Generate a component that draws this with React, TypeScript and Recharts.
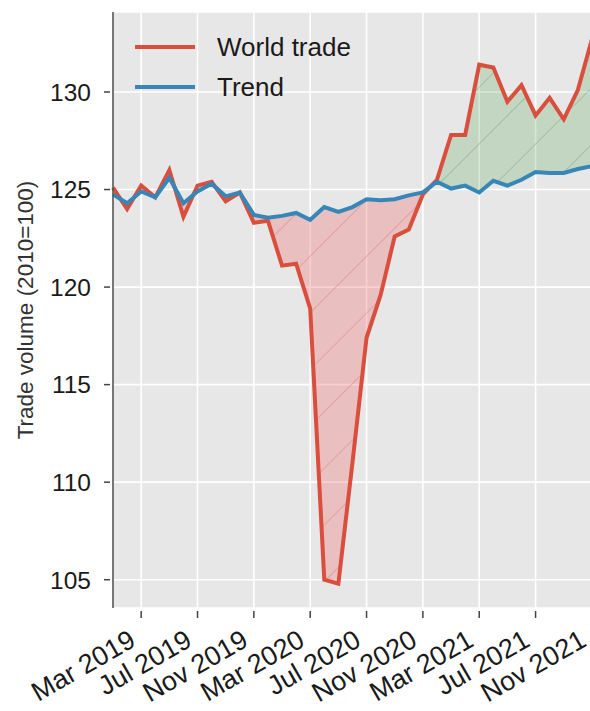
import React from "react";
import { ComposedChart, Line, Area, XAxis, YAxis, CartesianGrid, Legend } from "recharts";

// ---------------------------------------------------------------------------
// Data (monthly)
// ---------------------------------------------------------------------------

const MONTHS = [
  "Jan 2019", "Feb 2019", "Mar 2019", "Apr 2019", "May 2019", "Jun 2019",
  "Jul 2019", "Aug 2019", "Sep 2019", "Oct 2019", "Nov 2019", "Dec 2019",
  "Jan 2020", "Feb 2020", "Mar 2020", "Apr 2020", "May 2020", "Jun 2020",
  "Jul 2020", "Aug 2020", "Sep 2020", "Oct 2020", "Nov 2020", "Dec 2020",
  "Jan 2021", "Feb 2021", "Mar 2021", "Apr 2021", "May 2021", "Jun 2021",
  "Jul 2021", "Aug 2021", "Sep 2021", "Oct 2021", "Nov 2021",
];

const WORLD_TRADE = [
  125.1, 124.0, 125.2, 124.6, 126.0, 123.6, 125.2, 125.4, 124.4, 124.85, 123.3, 123.4,
  121.1, 121.2, 118.9, 105.0, 104.8, 111.0, 117.4, 119.6, 122.6, 122.95, 124.75, 125.5,
  127.8, 127.8, 131.4, 131.25, 129.5, 130.35, 128.8, 129.7, 128.6, 130.1, 132.7,
];

const TREND = [
  124.75, 124.3, 124.9, 124.6, 125.6, 124.3, 124.9, 125.3, 124.65, 124.85, 123.7, 123.55,
  123.65, 123.8, 123.45, 124.1, 123.85, 124.1, 124.5, 124.45, 124.5, 124.7, 124.85, 125.4,
  125.05, 125.2, 124.85, 125.45, 125.2, 125.5, 125.9, 125.85, 125.85, 126.05, 126.2,
];

const X_TICK_MONTHS = [
  "Mar 2019", "Jul 2019", "Nov 2019", "Mar 2020", "Jul 2020",
  "Nov 2020", "Mar 2021", "Jul 2021", "Nov 2021",
];

const Y_TICKS = [105, 110, 115, 120, 125, 130];

const RED = "#d94e3c";
const BLUE = "#3786b8";
const FONT = '"Liberation Sans", Arial, sans-serif';

const SERIES = [
  { name: "World trade", color: RED },
  { name: "Trend", color: BLUE },
];

const chartData = MONTHS.map((month, i) => {
  const w = WORLD_TRADE[i];
  const t = TREND[i];
  return {
    i,
    month,
    world: w,
    trend: t,
    below: [Math.min(w, t), t],
    above: [t, Math.max(w, t)],
  };
});

const xTicks = X_TICK_MONTHS.map((m) => MONTHS.indexOf(m));

// ---------------------------------------------------------------------------
// Ticks & legend
// ---------------------------------------------------------------------------

function XTick(props: any) {
  const { x, y, payload } = props;
  const ax = x - 4;
  const ay = y + 37;
  return (
    <g>
      <line x1={x} x2={x} y1={y + 3} y2={y + 10} stroke="#444" strokeWidth={1.5} />
      <text
        x={ax}
        y={ay}
        textAnchor="end"
        transform={`rotate(-30, ${ax}, ${ay})`}
        fontSize={27}
        fontFamily={FONT}
        fill="#1a1a1a"
      >
        {MONTHS[payload.value]}
      </text>
    </g>
  );
}

function YTick(props: any) {
  const { x, y, payload } = props;
  return (
    <g>
      <line x1={x - 9} x2={x - 3} y1={y} y2={y} stroke="#444" strokeWidth={1.5} />
      <text
        x={x - 22}
        y={y}
        dy="0.36em"
        textAnchor="end"
        fontSize={24.5}
        fontFamily={FONT}
        fill="#1a1a1a"
      >
        {payload.value}
      </text>
    </g>
  );
}

function YLabel(props: any) {
  const { viewBox } = props;
  const cx = 33;
  const cy = viewBox.y + viewBox.height / 2;
  return (
    <text
      x={cx}
      y={cy}
      textAnchor="middle"
      transform={`rotate(-90, ${cx}, ${cy})`}
      fontSize={22.5}
      fontFamily={FONT}
      fill="#333"
    >
      Trade volume (2010=100)
    </text>
  );
}

function LegendBox() {
  return (
    <div style={{ fontFamily: FONT }}>
      {SERIES.map((s) => (
        <div key={s.name} style={{ display: "flex", alignItems: "center", height: 40 }}>
          <div style={{ width: 60, height: 4, background: s.color, marginRight: 22 }} />
          <span style={{ fontSize: 26, color: "#1a1a1a", lineHeight: "40px" }}>{s.name}</span>
        </div>
      ))}
    </div>
  );
}

// ---------------------------------------------------------------------------
// Component
// ---------------------------------------------------------------------------

export default function App() {
  return (
    <div
      style={{
        position: "absolute",
        left: 0,
        top: 0,
        width: 590,
        height: 711,
        overflow: "hidden",
        background: "#fff",
      }}
    >
      <svg width={0} height={0} style={{ position: "absolute" }}>
        <defs>
          <pattern id="hatchRed" patternUnits="userSpaceOnUse" width={40} height={40} patternTransform="rotate(45)">
            <rect width={40} height={40} fill="rgba(240,110,110,0.33)" />
            <line x1={0} y1={0} x2={0} y2={40} stroke="rgba(215,90,90,0.3)" strokeWidth={2} />
          </pattern>
          <pattern id="hatchGreen" patternUnits="userSpaceOnUse" width={40} height={40} patternTransform="rotate(45)">
            <rect width={40} height={40} fill="rgba(95,170,95,0.27)" />
            <line x1={0} y1={0} x2={0} y2={40} stroke="rgba(70,120,70,0.25)" strokeWidth={2} />
          </pattern>
        </defs>
      </svg>
      <ComposedChart
        width={606}
        height={711}
        data={chartData}
        margin={{ top: 12, right: 0, bottom: 0, left: 0 }}
      >
        <CartesianGrid stroke="#ffffff" strokeWidth={1.6} fill="#e7e7e7" />
        <XAxis
          dataKey="i"
          type="number"
          domain={[0, 35]}
          ticks={xTicks}
          interval={0}
          height={103}
          axisLine={false}
          tickLine={false}
          tickSize={0}
          tickMargin={0}
          tick={<XTick />}
        />
        <YAxis
          type="number"
          domain={[103.55, 134.1]}
          allowDataOverflow
          ticks={Y_TICKS}
          width={113}
          axisLine={{ stroke: "#555", strokeWidth: 1.6 }}
          tickLine={false}
          tickSize={0}
          tickMargin={0}
          tick={<YTick />}
          label={<YLabel />}
        />
        <Legend
          layout="horizontal"
          verticalAlign="middle"
          align="center"
          wrapperStyle={{ left: 135, top: 27, width: 260 }}
          content={() => <LegendBox />}
        />
        <Area
          dataKey="below"
          type="linear"
          stroke="none"
          fill="url(#hatchRed)"
          fillOpacity={1}
          isAnimationActive={false}
          legendType="none"
        />
        <Area
          dataKey="above"
          type="linear"
          stroke="none"
          fill="url(#hatchGreen)"
          fillOpacity={1}
          isAnimationActive={false}
          legendType="none"
        />
        <Line
          dataKey="world"
          type="linear"
          stroke={RED}
          strokeWidth={4}
          dot={false}
          isAnimationActive={false}
        />
        <Line
          dataKey="trend"
          type="linear"
          stroke={BLUE}
          strokeWidth={4}
          dot={false}
          isAnimationActive={false}
        />
      </ComposedChart>
    </div>
  );
}
